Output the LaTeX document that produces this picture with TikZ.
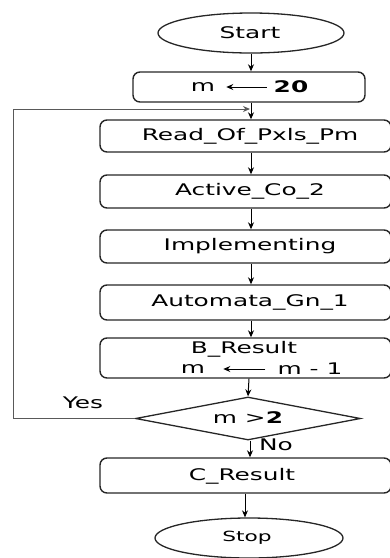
\documentclass[tikz,border=0pt]{standalone}
\usepackage{fontspec}
\usepackage{graphicx}
\setmainfont{DejaVu Sans}
\usetikzlibrary{shapes.geometric,arrows.meta}
\newcommand\wtxt[1]{\scalebox{1.55}[1]{#1}}
\tikzset{
  flow/.style={draw=black!85, line width=1.4pt, rounded corners=7pt, minimum width=291pt, inner sep=0pt},
  term/.style={draw=black!85, line width=1.3pt, ellipse, inner sep=0pt},
  lbl/.style={inner sep=0pt, font=\fontsize{16}{19}\selectfont},
  conn/.style={draw=black, line width=1pt, -{Stealth[length=7pt,width=6pt]}},
  back/.style={draw=black!65, line width=1pt, -{Stealth[length=7pt,width=6pt]}},
}
\begin{document}
\begin{tikzpicture}[x=1pt,y=-1pt]
\useasboundingbox (0,0) rectangle (390,558);
\clip (0,0) rectangle (390,558);

% terminals
\node[term, minimum width=186pt, minimum height=40pt] (start) at (251,33) {};
\node[lbl] (start-t) at (250,33) {\wtxt{Start}};
\node[term, minimum width=188pt, minimum height=40pt] (stop) at (249,538) {};
\node[lbl, font=\fontsize{14}{17}\selectfont] (stop-t) at (247,538) {\wtxt{Stop}};

% process boxes
\node[flow, minimum width=232pt, minimum height=30pt] (init) at (249,87) {};
\node[flow, minimum height=32pt] (read) at (245.5,136) {};
\node[flow, minimum height=33pt] (active) at (245.5,191.5) {};
\node[flow, minimum height=33pt] (impl) at (245.5,246.5) {};
\node[flow, minimum height=35pt] (auto) at (245.5,302.5) {};
\node[flow, minimum height=40pt] (bres) at (245.5,358) {};
\node[flow, minimum height=35pt] (cres) at (245.5,475.5) {};

% decision
\node[draw=black!85, line width=1.3pt, diamond, inner sep=0pt,
      minimum width=225pt, minimum height=43pt] (cond) at (248,418.5) {};

% texts
\node[lbl] (m0) at (203,87) {\wtxt{m}};
\node[lbl] (v20) at (291,87) {\wtxt{\textbf{20}}};
\draw[conn] (v20.west) ++(-7pt,0) coordinate (a0) (a0) -- ([xshift=11pt]m0.east);

\node[lbl] (read-t) at (250,136) {\wtxt{Read\_Of\_Pxls\_Pm}};
\node[lbl] (active-t) at (250,191.5) {\wtxt{Active\_Co\_2}};
\node[lbl] (impl-t) at (250,246.5) {\wtxt{Implementing}};
\node[lbl] (auto-t) at (250,302.5) {\wtxt{Automata\_Gn\_1}};
\node[lbl] (bres-t) at (244,349) {\wtxt{B\_Result}};
\node[lbl] (m1) at (193,369) {\wtxt{m}};
\node[lbl] (m2) at (310,369) {\wtxt{m - 1}};
\draw[conn] ([xshift=-12pt]m2.west) -- ([xshift=18pt]m1.east);
\node[lbl] (cond-t) at (248,418) {\wtxt{m >\textbf{2}}};
\node[lbl] (cres-t) at (242,476) {\wtxt{C\_Result}};

\node[lbl] (yes) at (83,403) {\wtxt{Yes}};
\node[lbl] (no) at (276,445) {\wtxt{No}};

% main flow
\coordinate (merge) at (251,109);
\draw[conn] (start.south -| 251,0) -- (init.north -| 251,0);
\draw[line width=1pt] (init.south -| 251,0) -- (merge);
\draw[conn] (merge) -- (read.north -| merge);
\draw[conn] (read.south -| merge) -- (active.north -| merge);
\draw[conn] (active.south -| merge) -- (impl.north -| merge);
\draw[conn] (impl.south -| merge) -- (auto.north -| merge);
\draw[conn] (auto.south -| merge) -- (bres.north -| merge);
\draw[conn] (bres.south -| 249,0) -- (cond.north);
\draw[conn] (cond.south -| 250,0) -- (cres.north -| 250,0);
\draw[conn] (cres.south -| 245,0) -- (stop.north -| 245,0);

% loop back on "Yes"
\draw[back] (cond.west) -- (13,418.5) -- (13,109) -- ([xshift=-1pt]merge);
\end{tikzpicture}
\end{document}
